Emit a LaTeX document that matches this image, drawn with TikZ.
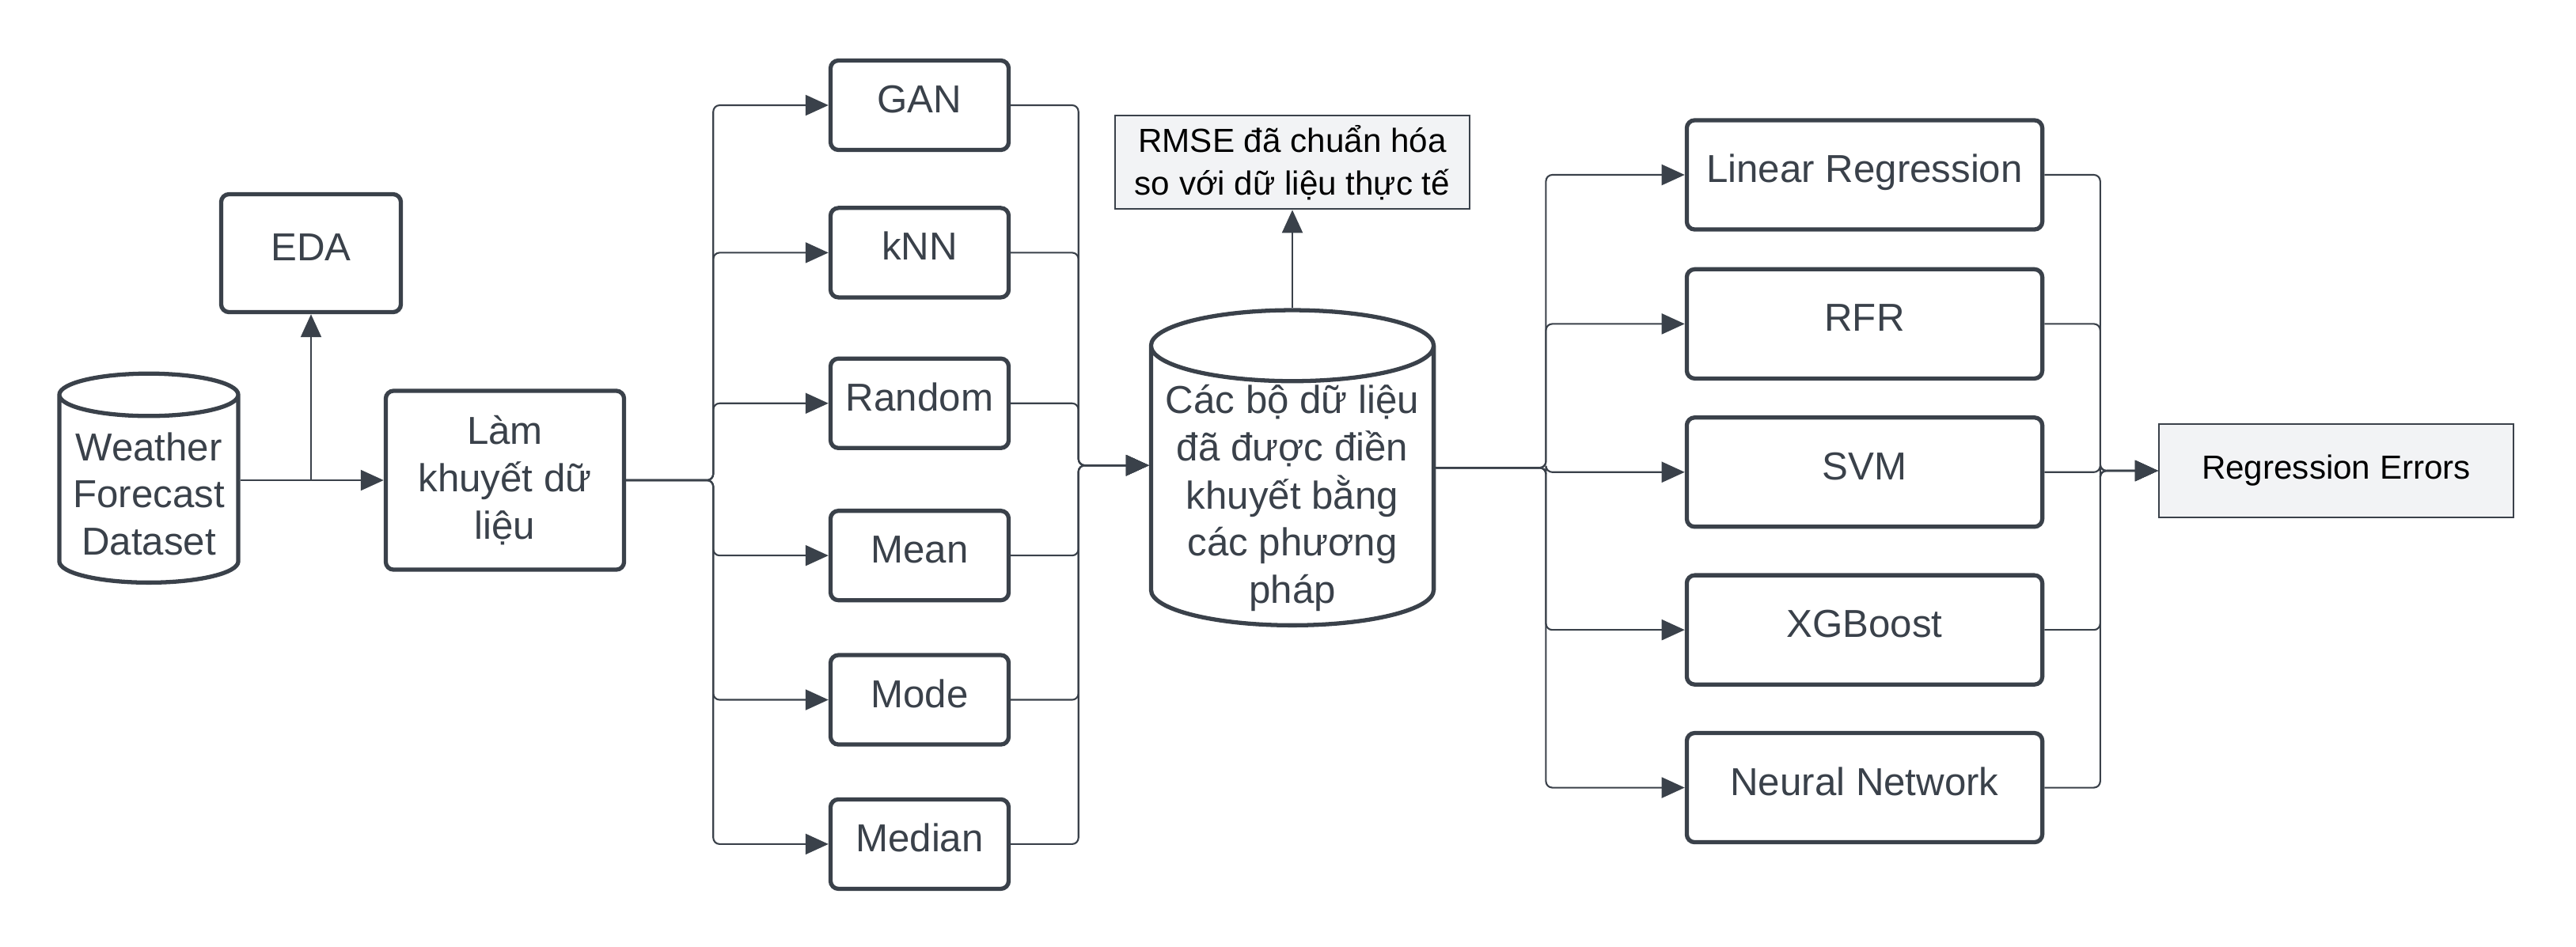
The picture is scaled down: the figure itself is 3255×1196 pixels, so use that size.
\documentclass[tikz,border=0pt]{standalone}
\usepackage{fontspec}
\setmainfont{Liberation Sans}
\usetikzlibrary{positioning,arrows.meta,shapes.geometric,calc}
\definecolor{ink}{HTML}{3A414A}
\definecolor{notefill}{HTML}{F2F3F5}
% text of a cylinder, lowered a little below its centre
\newcommand{\dbtext}[2][0.14cm]{\raisebox{-#1}[0pt][0pt]{\begin{tabular}{@{}c@{}}#2\end{tabular}}}

\begin{document}
\begin{tikzpicture}[x=0.01cm, y=-0.01cm,
  >={Triangle[length=2.9mm, width=2.6mm]},
  box/.style={draw=ink, line width=1.5pt, rounded corners=1mm, text=ink, align=center,
              font=\fontsize{14}{17}\selectfont, inner sep=0pt},
  one/.style={box, text height=0.35cm, text depth=0.16cm},
  db/.style={draw=ink, line width=1.5pt, cylinder, shape border rotate=90, aspect=0.28,
             text=ink, font=\fontsize{14}{17}\selectfont, inner sep=0pt, anchor=south},
  imp/.style={one, minimum width=2.25cm, minimum height=1.13cm},
  model/.style={one, minimum width=4.49cm, minimum height=1.38cm},
  note/.style={draw=ink, line width=0.6pt, fill=notefill, align=center,
               font=\fontsize{12}{15.4}\selectfont, minimum width=4.48cm,
               minimum height=1.18cm, inner sep=0pt},
  conn/.style={draw=ink, line width=0.6pt, rounded corners=0.8mm}]
  \useasboundingbox (0,0) rectangle (3255,1196);

  % input and missing data
  \node[db, minimum width=2.26cm, text height=0.905cm, text depth=0.905cm]
    (weather) at (188,739) {\dbtext[0.235cm]{Weather\\Forecast\\Dataset}};
  \node[one, minimum width=2.27cm, minimum height=1.49cm] (eda) at (393,320) {EDA};
  \node[box, minimum width=3.01cm, minimum height=2.26cm] (lam) at (638,607)
    {Làm\\khuyết dữ\\liệu};

  % imputation methods
  \node[imp] (gan) at (1162,133) {GAN};
  \node[imp, below=0.68cm of gan] (knn) {kNN};
  \node[imp, below=0.72cm of knn] (rnd) {Random};
  \node[imp, below=0.74cm of rnd] (mean) {Mean};
  \node[imp, below=0.64cm of mean] (mode) {Mode};
  \node[imp, below=0.64cm of mode] (median) {Median};

  \node[db, minimum width=3.57cm, text height=1.305cm, text depth=1.305cm]
    (mid) at (1633,793)
    {\dbtext[0.285cm]{Các bộ dữ liệu\\đã được điền\\khuyết bằng\\các phương\\pháp}};
  \node[note, above=1.24cm of mid] (rmse) {RMSE đã chuẩn hóa\\so với dữ liệu thực tế};

  % regression models
  \node[model] (lr) at (2356,221) {Linear Regression};
  \node[model, below=0.45cm of lr] (rfr) {RFR};
  \node[model, below=0.44cm of rfr] (svm) {SVM};
  \node[model, below=0.56cm of svm] (xgb) {XGBoost};
  \node[model, below=0.56cm of xgb] (nn) {Neural Network};
  \node[note] (err) at (2952,595) {Regression Errors};

  \coordinate (w1) at (eda.south |- lam.west);
  \coordinate (mc) at ($(mid.north)!0.5!(mid.south)$);
  \coordinate[right=1.1cm of lam.east] (s1);
  \coordinate (s2) at ($(mc -| mid.west)+(-0.89cm,0.03cm)$);
  \coordinate (s3) at ($(mc -| mid.east)+(1.39cm,0)$);
  \coordinate[left=0.73cm of err.west] (s4);

  \draw[conn, ->] (lam.west -| weather.east) -- (lam.west);
  \draw[conn, ->] (w1) -- (eda.south);
  \foreach \n in {gan,knn,rnd,mean,mode,median} {
    \draw[conn, ->] (lam.east) -- (s1) |- (\n.west);
    \draw[conn, ->] (\n.east) -| (s2) -- (s2 -| mid.west);
  }
  \draw[conn, ->] (mid.north) -- (rmse.south);
  \foreach \n in {lr,rfr,svm,xgb,nn} {
    \draw[conn, ->] (mc -| mid.east) -- (s3) |- (\n.west);
    \draw[conn, ->] (\n.east) -| (s4) -- (err.west);
  }
\end{tikzpicture}
\end{document}
